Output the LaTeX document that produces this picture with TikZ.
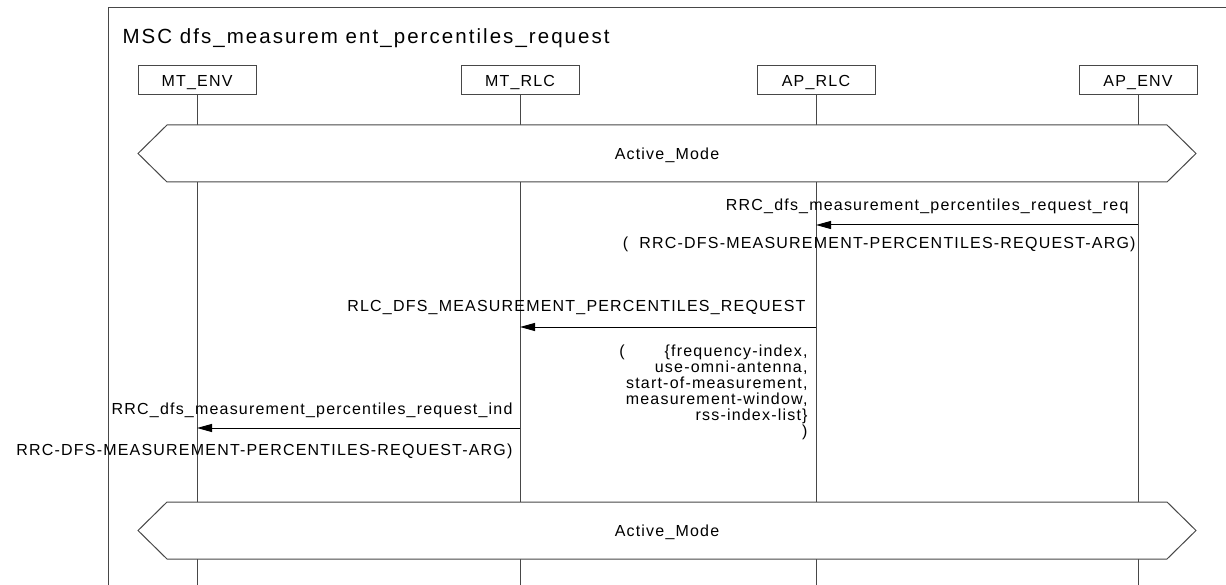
\documentclass[tikz,border=0pt]{standalone}
\usepackage{fontspec}
\setmainfont{Liberation Sans}
\newfontfamily\lblfont[LetterSpace=7.5]{Liberation Sans}
\newfontfamily\ttlfont[LetterSpace=10]{Liberation Sans}
\usetikzlibrary{arrows.meta}
\begin{document}
\begin{tikzpicture}[x=1pt,y=1pt,line width=1pt,
  ln/.style={draw=black!72},
  inst/.style={draw=black!72,fill=white,minimum width=118pt,minimum height=29pt,inner sep=0pt,
    text height=11.5pt,text depth=0pt,font=\lblfont\fontsize{16}{16}\selectfont},
  lbl/.style={inner sep=0pt,font=\lblfont\fontsize{16}{16}\selectfont},
  msg/.style={draw=black,-{Triangle[length=15pt,width=8pt]}},
  cond/.style={draw=black!72,fill=white}
]
\useasboundingbox (0,0) rectangle (1226,-585);
% frame
\draw[ln] (108,-585) -- (108,-8) -- (1226,-8);
\node[anchor=base west,inner sep=0pt,font=\ttlfont\fontsize{20.5}{20.5}\selectfont] (title) at (122,-43.5) {MSC dfs\_measurem ent\_percentiles\_request};
% instances
\node[inst] (mtenv) at (197,-80.5) {MT\_ENV};
\node[inst] (mtrlc) at (520,-80.5) {MT\_RLC};
\node[inst] (aprlc) at (816,-80.5) {AP\_RLC};
\node[inst] (apenv) at (1138,-80.5) {AP\_ENV};
\coordinate (mtenvE) at (197,-585);
\coordinate (mtrlcE) at (520,-585);
\coordinate (aprlcE) at (816,-585);
\coordinate (apenvE) at (1138,-585);
\draw[ln] (mtenv.south) -- (mtenvE);
\draw[ln] (mtrlc.south) -- (mtrlcE);
\draw[ln] (aprlc.south) -- (aprlcE);
\draw[ln] (apenv.south) -- (apenvE);
% conditions
\draw[cond] (138,-153.5) -- (167,-125) -- (1167,-125) -- (1196,-153.5) -- (1167,-182) -- (167,-182) -- cycle;
\node[lbl,anchor=base] (c1) at (667,-159.5) {Active\_Mode};
\draw[cond] (138,-530.5) -- (167,-502) -- (1167,-502) -- (1196,-530.5) -- (1167,-559) -- (167,-559) -- cycle;
\node[lbl,anchor=base] (c2) at (667,-536.5) {Active\_Mode};
% message 1
\coordinate (m1a) at (1138,-225);
\coordinate (m1b) at (816,-225);
\draw[msg] (m1a) -- (m1b);
\node[lbl,anchor=base east] (m1l) at (1129,-211) {RRC\_dfs\_measurement\_percentiles\_request\_req};
\node[lbl,anchor=base east] (m1p) at (1136,-249) {(\ \ RRC-DFS-MEASUREMENT-PERCENTILES-REQUEST-ARG)};
% message 2
\coordinate (m2a) at (816,-327);
\coordinate (m2b) at (520,-327);
\draw[msg] (m2a) -- (m2b);
\node[lbl,anchor=base east] (m2l) at (806,-312) {RLC\_DFS\_MEASUREMENT\_PERCENTILES\_REQUEST};
\node[lbl,anchor=north east,align=right] (m2p) at (808,-344) {(\hspace{40pt}\{frequency-index,\\use-omni-antenna,\\start-of-measurement,\\measurement-window,\\rss-index-list\}\\)};
% message 3
\coordinate (m3a) at (520,-428);
\coordinate (m3b) at (197,-428);
\draw[msg] (m3a) -- (m3b);
\node[lbl,anchor=base east] (m3l) at (513,-414) {RRC\_dfs\_measurement\_percentiles\_request\_ind};
\node[lbl,anchor=base east] (m3p) at (513,-455) {RRC-DFS-MEASUREMENT-PERCENTILES-REQUEST-ARG)};
\end{tikzpicture}
\end{document}
